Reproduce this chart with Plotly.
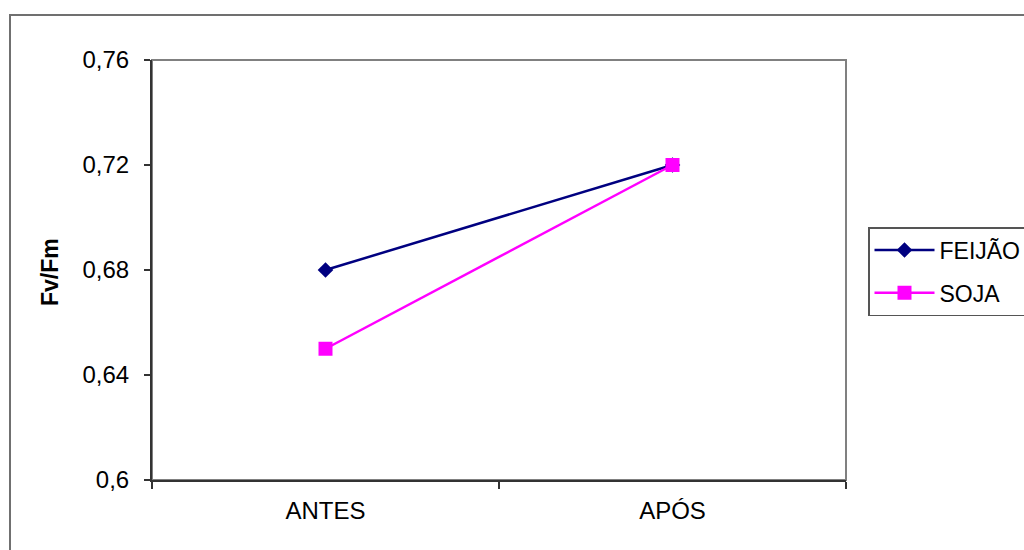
import plotly.graph_objects as go

categories = ["ANTES", "APÓS"]
feijao = [0.68, 0.72]
soja = [0.65, 0.72]
ytick_vals = [0.6, 0.64, 0.68, 0.72, 0.76]
ytick_text = ["0,6", "0,64", "0,68", "0,72", "0,76"]

FONT = "Liberation Sans, Arial, sans-serif"

fig = go.Figure()
fig.add_trace(go.Scatter(
    x=categories, y=feijao, name="FEIJÃO", mode="lines+markers",
    line=dict(color="#000080", width=2.5),
    marker=dict(symbol="diamond", size=12, color="#000080"),
    legendgroup="a",
))
fig.add_trace(go.Scatter(
    x=categories, y=soja, name="SOJA", mode="lines+markers",
    line=dict(color="#FF00FF", width=2.5),
    marker=dict(symbol="square", size=14, color="#FF00FF"),
    legendgroup="b",
))

L, R, T, B = 152, 178, 60, 70
W, H = 1024 - L - R, 550 - T - B

def px(x):
    return (x - L) / W

def py(y):
    return (550 - B - y) / H

fig.update_layout(
    width=1024, height=550,
    margin=dict(l=L, r=R, t=T, b=B, autoexpand=False),
    paper_bgcolor="white", plot_bgcolor="white",
    font=dict(family=FONT, size=24, color="black"),
    showlegend=True,
    legend=dict(
        xref="container", yref="container",
        x=868 / 1024, y=1 - 227 / 550, xanchor="left", yanchor="top",
        bgcolor="white", bordercolor="#555555", borderwidth=1.5,
        font=dict(size=23), tracegroupgap=10, itemwidth=60,
    ),
    xaxis=dict(
        type="category", range=[-0.5, 1.5], tickson="boundaries",
        ticks="outside", ticklen=7, tickwidth=1.5, tickcolor="#333333",
        showline=True, linecolor="#333333", linewidth=2,
        showgrid=False, zeroline=False, tickfont=dict(size=24),
        ticklabelstandoff=8,
    ),
    yaxis=dict(
        range=[0.6, 0.76], tickvals=ytick_vals, ticktext=ytick_text,
        ticks="outside", ticklen=6, tickwidth=1.5, tickcolor="#333333",
        showline=True, linecolor="#333333", linewidth=2,
        showgrid=False, zeroline=False, tickfont=dict(size=24),
        ticklabelstandoff=10,
    ),
    shapes=[
        dict(type="rect", xref="paper", yref="paper", x0=0, x1=1, y0=0, y1=1,
             line=dict(color="#808080", width=2), layer="below"),
        dict(type="rect", xref="paper", yref="paper",
             x0=px(10), x1=px(1040), y0=py(15), y1=py(570),
             line=dict(color="#707070", width=2), layer="below"),
    ],
    annotations=[
        dict(text="<b>Fv/Fm</b>", xref="paper", yref="paper",
             x=px(50), y=py(272), textangle=-90, showarrow=False,
             font=dict(size=23), xanchor="center", yanchor="middle"),
    ],
)

fig.write_html("out.html")
